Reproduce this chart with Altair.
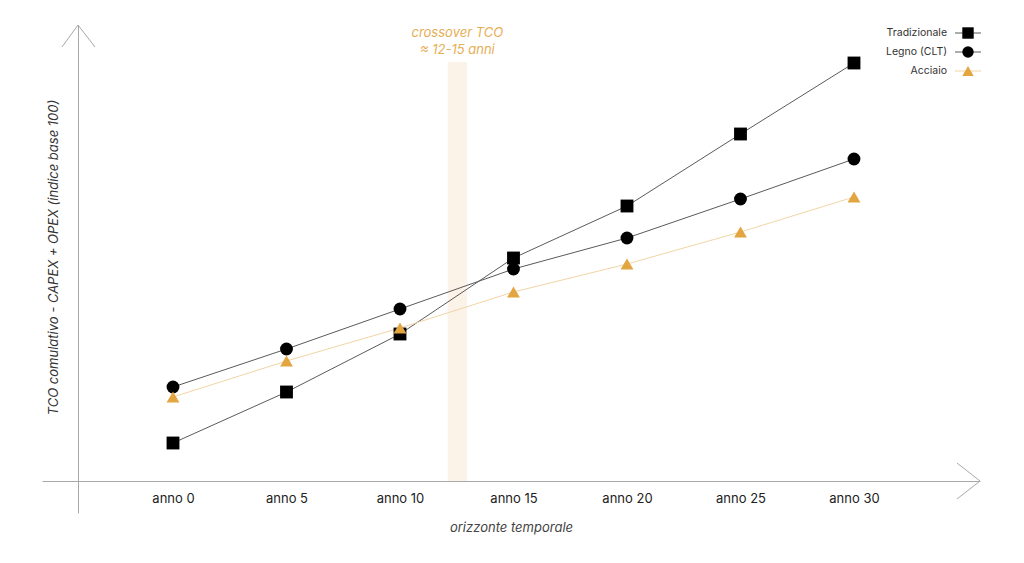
import altair as alt
import pandas as pd

# ---- data (index values, arbitrary base) ----
years = [0, 5, 10, 15, 20, 25, 30]
series = ["Tradizionale", "Legno (CLT)", "Acciaio"]
tradizionale = [38, 89, 147, 223, 275, 347, 418]
legno = [94, 132, 172, 212, 243, 282, 322]
acciaio = [84, 120, 153, 189, 217, 249, 284]
crossover_start = 12.1
crossover_end = 12.95
crossover_top = 419
annotation_lines = ["crossover TCO", "≈ 12-15 anni"]
y_title = "TCO comulativo - CAPEX + OPEX (indice base 100)"
x_title = "orizzonte temporale"

# ---- styles ----
FONT = "Inter"
marker_colors = ["#000000", "#000000", "#E2A540"]
line_colors = ["#5a5a5a", "#5a5a5a", "#F1D4A6"]
shapes = ["square", "circle", "triangle-up"]
ORANGE_TEXT = "#E6AE55"
BAND = "#FBF2E8"
AXIS_GRAY = "#a8a8a8"

rows = []
for name, vals in zip(series, [tradizionale, legno, acciaio]):
    for yr, v in zip(years, vals):
        rows.append({"anno": yr, "valore": v, "serie": name})
df = pd.DataFrame(rows)

x_scale = alt.Scale(domain=[-5.771, 35.551], nice=False, zero=False)
y_scale = alt.Scale(domain=[-32, 456], nice=False, zero=False)

color_scale = alt.Scale(domain=series, range=marker_colors)
stroke_scale = alt.Scale(domain=series, range=line_colors)
shape_scale = alt.Scale(domain=series, range=shapes)

x_axis = alt.Axis(
    values=years, labelExpr="'anno ' + datum.value", title=x_title,
    orient="bottom", offset=-32, ticks=False, tickSize=0, grid=False,
    domainColor=AXIS_GRAY, domainWidth=1, labelPadding=11,
    labelFont=FONT, labelFontSize=13, labelColor="#222222",
    titleFont=FONT, titleFontSize=13, titleFontStyle="italic",
    titleFontWeight="normal", titleColor="#444444",
    titleY=50, titleBaseline="alphabetic",
)
y_axis = alt.Axis(
    title=y_title, orient="left", offset=-36, ticks=False, tickSize=0,
    labels=False, grid=False, domainColor=AXIS_GRAY, domainWidth=1,
    titleFont=FONT, titleFontSize=13, titleFontStyle="italic",
    titleFontWeight="normal", titleColor="#333333",
    titleX=-21, titleY=232, titleBaseline="alphabetic",
)

base = alt.Chart(df)

band = alt.Chart(pd.DataFrame({"a": [crossover_start], "b": [crossover_end],
                               "lo": [0], "hi": [crossover_top]})).mark_rect(
    color=BAND).encode(
    x=alt.X("a:Q", scale=x_scale, axis=x_axis), x2="b:Q",
    y=alt.Y("lo:Q", scale=y_scale, axis=y_axis), y2="hi:Q",
)

# axis arrowheads (decoration, in pixels of the plot area)
one = pd.DataFrame({"k": [0]})
def seg(x1, y1, x2, y2):
    return alt.Chart(one).mark_rule(color=AXIS_GRAY, strokeWidth=1).encode(
        x=alt.value(x1), y=alt.value(y1), x2=alt.value(x2), y2=alt.value(y2))
arrows = [seg(20, 22, 36, 0), seg(36, 0, 53, 22),
          seg(915, 438, 938, 456), seg(938, 456, 915, 474)]

lines = base.mark_line(strokeWidth=1).encode(
    x=alt.X("anno:Q", scale=x_scale),
    y=alt.Y("valore:Q", scale=y_scale),
    stroke=alt.Stroke("serie:N", scale=stroke_scale, legend=None),
    detail="serie:N",
)

points = base.mark_point(filled=True, opacity=1, size=165).encode(
    x=alt.X("anno:Q", scale=x_scale),
    y=alt.Y("valore:Q", scale=y_scale),
    color=alt.Color("serie:N", scale=color_scale, legend=None),
    shape=alt.Shape("serie:N", scale=shape_scale, legend=None),
)

annot = alt.Chart(pd.DataFrame({
    "x": [(crossover_start + crossover_end) / 2], "y": [448],
    "t": ["\n".join(annotation_lines)]})).mark_text(
    font=FONT, fontSize=13, fontStyle="italic", color=ORANGE_TEXT,
    lineBreak="\n", lineHeight=17, baseline="middle", align="center",
).encode(
    x=alt.X("x:Q", scale=x_scale), y=alt.Y("y:Q", scale=y_scale), text="t:N",
)

main = alt.layer(band, *arrows, lines, points, annot)

# ---- legend built from the series list ----
leg_df = pd.DataFrame({"serie": series})
leg_y = alt.Y("serie:N", scale=alt.Scale(domain=series, range=[8, 46], type="point", padding=0), axis=None)
leg_rule = alt.Chart(leg_df).mark_rule(strokeWidth=1).encode(
    x=alt.value(913), x2=alt.value(939), y=leg_y,
    stroke=alt.Stroke("serie:N", scale=stroke_scale, legend=None),
)
leg_pts = alt.Chart(leg_df).mark_point(filled=True, opacity=1, size=130).encode(
    x=alt.value(926), y=leg_y,
    color=alt.Color("serie:N", scale=color_scale, legend=None),
    shape=alt.Shape("serie:N", scale=shape_scale, legend=None),
)
leg_txt = alt.Chart(leg_df).mark_text(
    font=FONT, fontSize=10.5, color="#333333", align="right", baseline="middle"
).encode(x=alt.value(905), y=leg_y, text="serie:N")
legend = alt.layer(leg_rule, leg_pts, leg_txt)

chart = alt.layer(main, legend).resolve_scale(y="independent").properties(
    width=938, height=488,
    autosize=alt.AutoSizeParams(type="none"),
    padding={"left": 34, "top": 17, "right": 36, "bottom": 34},
    background="white",
).configure_view(stroke=None)

chart.save("out.html", embed_options={"renderer": "svg", "actions": False})
